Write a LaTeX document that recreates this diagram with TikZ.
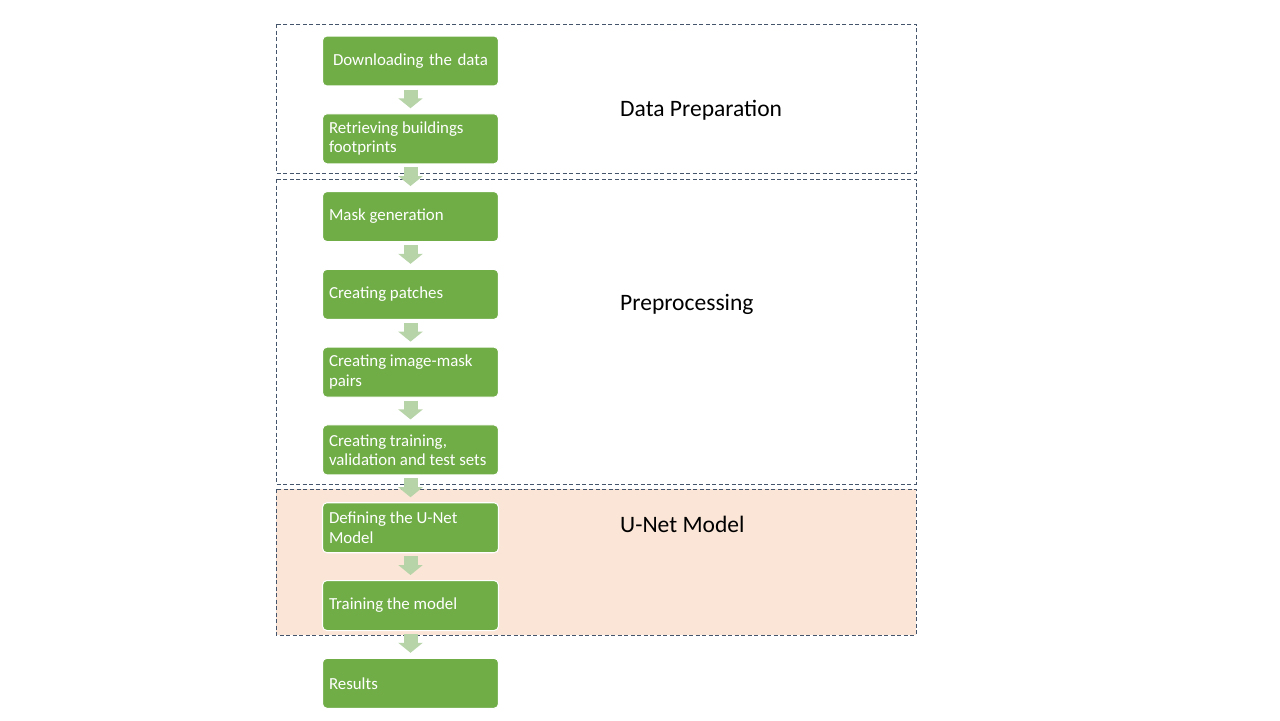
\documentclass[tikz,border=0pt]{standalone}
\usepackage{fontspec}
\setmainfont{Carlito}
\usetikzlibrary{arrows.meta,positioning,backgrounds}
\definecolor{stepgreen}{HTML}{70AD47}
\definecolor{flowarrow}{HTML}{B7D4A8}
\definecolor{frame}{HTML}{44546A}
\definecolor{unetfill}{HTML}{FBE5D6}
\tikzset{
  stage/.style={draw=white, line width=0.6pt, rounded corners=2.5pt, fill=stepgreen, text=white,
                align=flush left, minimum height=1.0cm, text width=3.26cm,
                inner xsep=0.13cm, inner ysep=0pt, font=\fontsize{9.6}{11}\selectfont},
  flow/.style={-{Triangle[length=0.2cm, width=0.48cm]}, line width=0.28cm, draw=flowarrow,
               shorten <=0.06cm, shorten >=0.1cm},
  group/.style={draw=frame, line width=0.5pt, dash pattern=on 2.4pt off 1.3pt},
  phase/.style={anchor=west, font=\fontsize{13.4}{15}\selectfont},
}
\begin{document}
\begin{tikzpicture}[x=0.02cm, y=-0.02cm, node distance=0.535cm]
\useasboundingbox (0,0) rectangle (1280,720);

% steps
\node[stage, align=center] (download) at (410.5,61) {Downloading the data};
\node[stage, below=of download] (footprints) {Retrieving buildings\\footprints};
\node[stage, below=of footprints] (mask) {Mask generation};
\node[stage, below=of mask] (patches) {Creating patches};
\node[stage, below=of patches] (pairs) {Creating image-mask\\pairs};
\node[stage, below=of pairs] (sets) {Creating training,\\validation and test sets};
\node[stage, below=of sets] (unet) {Defining the U-Net\\Model};
\node[stage, below=of unet] (training) {Training the model};
\node[stage, below=of training] (results) {Results};

% phases
\begin{scope}[on background layer]
  \draw[group] (276,24) rectangle (916,173);
  \draw[group] (276,179) rectangle (916,484);
  \draw[group, fill=unetfill] (276,489) rectangle (916,635);
\end{scope}
\node[phase] (prep) at (614,110) {Data Preparation};
\node[phase] (preproc) at (614,304) {Preprocessing};
\node[phase] (model) at (614,524) {U-Net Model};

\draw[flow] (download) -- (footprints);
\draw[flow] (footprints) -- (mask);
\draw[flow] (mask) -- (patches);
\draw[flow] (patches) -- (pairs);
\draw[flow] (pairs) -- (sets);
\draw[flow] (sets) -- (unet);
\draw[flow] (unet) -- (training);
\draw[flow] (training) -- (results);
\end{tikzpicture}
\end{document}
